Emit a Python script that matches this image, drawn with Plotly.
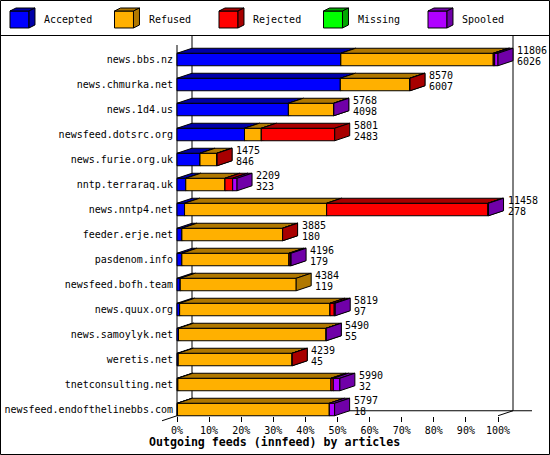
import plotly.graph_objects as go

# ---------------- data ----------------
hosts = ["news.bbs.nz", "news.chmurka.net", "news.1d4.us", "newsfeed.dotsrc.org",
         "news.furie.org.uk", "nntp.terraraq.uk", "news.nntp4.net", "feeder.erje.net",
         "pasdenom.info", "newsfeed.bofh.team", "news.quux.org", "news.samoylyk.net",
         "weretis.net", "tnetconsulting.net", "newsfeed.endofthelinebbs.com"]
offered = [11806, 8570, 5768, 5801, 1475, 2209, 11458, 3885, 4196, 4384, 5819, 5490, 4239, 5990, 5797]
accepted = [6026, 6007, 4098, 2483, 846, 323, 278, 180, 179, 119, 97, 55, 45, 32, 18]
refused = [5607, 2558, 1665, 618, 621, 1442, 5226, 3700, 3940, 4265, 5530, 5430, 4190, 5632, 5584]
rejected = [51, 5, 0, 2700, 8, 283, 5933, 5, 48, 0, 158, 0, 4, 85, 0]
missing = [0, 0, 0, 0, 0, 0, 0, 0, 0, 0, 0, 0, 0, 0, 0]
spooled = [122, 0, 5, 0, 0, 161, 21, 0, 29, 0, 34, 5, 0, 241, 195]

series_names = ["Accepted", "Refused", "Rejected", "Missing", "Spooled"]
front_colors = ["#0000FF", "#FFB000", "#FF0000", "#00FF00", "#B000FF"]
dark_colors = ["#0000A8", "#B07800", "#A80000", "#00A800", "#7000A8"]

tick_vals = [0, 10, 20, 30, 40, 50, 60, 70, 80, 90, 100]
tick_text = ["0%", "10%", "20%", "30%", "40%", "50%", "60%", "70%", "80%", "90%", "100%"]
x_title = "Outgoing feeds (innfeed) by articles"

# ---------------- geometry ----------------
W, H = 550, 455
X0_PX = 177.0          # pixel of 0 %
PX_PER_PCT = 3.21
ROW0_PX = 59.5
ROW_PX = 25.0
DX_PX, DY_PX = 15.0, 5.0
HALF_PX = 6.25

xr = [-X0_PX / PX_PER_PCT, (W - X0_PX) / PX_PER_PCT]
yr = [(H - ROW0_PX) / ROW_PX, -ROW0_PX / ROW_PX]
dx = DX_PX / PX_PER_PCT
dy = DY_PX / ROW_PX
hh = HALF_PX / ROW_PX

FONT = "DejaVu Sans Mono"
series = [accepted, refused, rejected, missing, spooled]
vmax = max(sum(s[i] for s in series) for i in range(len(hosts)))

shapes = []
annotations = []

def pline(x0, y0, x1, y1):
    shapes.append(dict(type="line", xref="x", yref="y", x0=x0, y0=y0, x1=x1, y1=y1,
                       line=dict(color="black", width=1)))

n = len(hosts)
y_top = (35 - ROW0_PX) / ROW_PX
y_front_top = (45 - ROW0_PX) / ROW_PX
floor_front = (n - 1) + hh
floor_back = floor_front - dy

# back wall / floor lines
pline(dx, y_top, dx, floor_back)
pline(100 + dx, y_top, 100 + dx, floor_back)
pline(dx, floor_back, 100 + dx + 19 / PX_PER_PCT, floor_back)
pline(-dx, floor_front + dy, dx, floor_back)
pline(100, floor_front, 100 + dx, floor_back)
pline(0, y_front_top, 0, floor_front)

def path(pts):
    return "M " + " L ".join(f"{x:.4f},{y:.4f}" for x, y in pts) + " Z"

for i in range(n):
    start = 0.0
    for k, s in enumerate(series):
        v = s[i]
        if v <= 0:
            continue
        a = start
        b = start + v / vmax * 100.0
        start = b
        yt, yb = i - hh, i + hh
        shapes.append(dict(type="path", xref="x", yref="y",
                           path=path([(a, yt), (b, yt), (b, yb), (a, yb)]),
                           fillcolor=front_colors[k], line=dict(color="black", width=1)))
        shapes.append(dict(type="path", xref="x", yref="y",
                           path=path([(a, yt), (b, yt), (b + dx, yt - dy), (a + dx, yt - dy)]),
                           fillcolor=dark_colors[k], line=dict(color="black", width=1)))
        shapes.append(dict(type="path", xref="x", yref="y",
                           path=path([(b, yt), (b + dx, yt - dy), (b + dx, yb - dy), (b, yb)]),
                           fillcolor=dark_colors[k], line=dict(color="black", width=1)))
    annotations.append(dict(x=start, y=i, xref="x", yref="y", text=str(offered[i]),
                            showarrow=False, xanchor="left", yanchor="middle",
                            xshift=DX_PX + 2, yshift=9.5,
                            font=dict(family=FONT, size=10, color="black")))
    annotations.append(dict(x=start, y=i, xref="x", yref="y", text=str(accepted[i]),
                            showarrow=False, xanchor="left", yanchor="middle",
                            xshift=DX_PX + 2, yshift=-2,
                            font=dict(family=FONT, size=10, color="black")))

# ---------------- legend (cubes) ----------------
def px(x):
    return x / W

def py(y):
    return 1 - y / H

leg_x = [10, 114.5, 219, 323.5, 428]
for k, name in enumerate(series_names):
    x0 = leg_x[k]
    x1 = x0 + 19
    t, b = 11, 28
    ddx, ddy = 6, 3
    shapes.append(dict(type="path", xref="paper", yref="paper",
                       path=path([(px(x0), py(t)), (px(x1), py(t)), (px(x1), py(b)), (px(x0), py(b))]),
                       fillcolor=front_colors[k], line=dict(color="black", width=1)))
    shapes.append(dict(type="path", xref="paper", yref="paper",
                       path=path([(px(x0), py(t)), (px(x1), py(t)), (px(x1 + ddx), py(t - ddy)), (px(x0 + ddx), py(t - ddy))]),
                       fillcolor=dark_colors[k], line=dict(color="black", width=1)))
    shapes.append(dict(type="path", xref="paper", yref="paper",
                       path=path([(px(x1), py(t)), (px(x1 + ddx), py(t - ddy)), (px(x1 + ddx), py(b - ddy)), (px(x1), py(b))]),
                       fillcolor=dark_colors[k], line=dict(color="black", width=1)))
    annotations.append(dict(x=px(x0 + 32), y=py(20), xref="paper", yref="paper", text=name,
                            showarrow=False, xanchor="left", yanchor="middle",
                            font=dict(family=FONT, size=10, color="black")))

# frame and legend separator
shapes.append(dict(type="rect", xref="paper", yref="paper", x0=px(0.5), x1=px(549.5),
                   y0=py(0.5), y1=py(454.5), line=dict(color="black", width=1)))
shapes.append(dict(type="line", xref="paper", yref="paper", x0=0, x1=1, y0=py(35.5), y1=py(35.5),
                   line=dict(color="black", width=1)))

annotations.append(dict(x=px(274.5), y=py(441.5), xref="paper", yref="paper",
                        text="<b>" + x_title + "</b>", showarrow=False,
                        xanchor="center", yanchor="middle",
                        font=dict(family=FONT, size=11.6, color="black")))

fig = go.Figure()
fig.add_trace(go.Scatter(x=[None], y=[None], showlegend=False, hoverinfo="skip"))
fig.update_layout(
    width=W, height=H, margin=dict(l=0, r=0, t=0, b=0),
    paper_bgcolor="white", plot_bgcolor="white", showlegend=False,
    xaxis=dict(range=xr, domain=[0, 1], anchor="free", position=(H - (ROW0_PX + (n - 1) * ROW_PX + HALF_PX)) / H,
               showgrid=False, zeroline=False, showline=False,
               tickmode="array", tickvals=tick_vals, ticktext=tick_text,
               ticks="outside", ticklen=5, tickwidth=1, tickcolor="black",
               tickfont=dict(family=FONT, size=10, color="black"), fixedrange=True),
    yaxis=dict(range=yr, domain=[0, 1], anchor="free", position=X0_PX / W,
               showgrid=False, zeroline=False, showline=False,
               tickmode="array", tickvals=list(range(n)), ticktext=hosts,
               ticks="", ticklabelstandoff=4,
               tickfont=dict(family=FONT, size=10, color="black"), fixedrange=True),
    shapes=shapes, annotations=annotations,
)
fig.write_html("out.html")
